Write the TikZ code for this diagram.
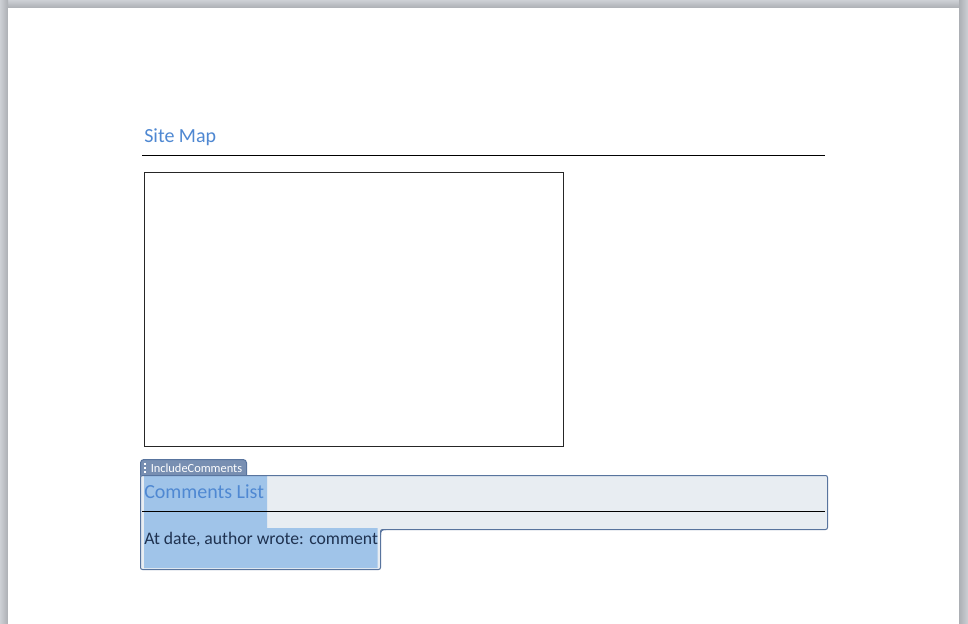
\documentclass[tikz,border=0pt]{standalone}
\usepackage{fontspec}
\setmainfont{Carlito}
\definecolor{pageshade}{RGB}{172,175,180}
\definecolor{shadeout}{RGB}{205,208,213}
\definecolor{heading}{RGB}{79,136,210}
\definecolor{bodytext}{RGB}{31,50,80}
\definecolor{selblue}{RGB}{160,196,233}
\definecolor{ctlfill}{RGB}{232,237,242}
\definecolor{ctledge}{RGB}{88,116,158}
\definecolor{tabfill}{RGB}{120,143,178}
\tikzset{
  x=0.75pt,y=-0.75pt,
  headtext/.style={inner sep=0pt,anchor=base west,text=heading},
  bodylabel/.style={inner sep=0pt,anchor=base west,text=bodytext,font=\fontsize{13.25}{15}\selectfont},
  rule/.style={draw=black,line width=0.75pt},
  ctl/.style={draw=ctledge,line width=0.75pt,rounded corners=1.5pt},
}
\begin{document}
\begin{tikzpicture}
\useasboundingbox (0,0) rectangle (968,624);
% window background and page
\fill[shadeout] (0,0) rectangle (968,624);
\shade[top color=shadeout,bottom color=pageshade] (0,0) rectangle (968,8);
\shade[left color=shadeout,right color=pageshade] (0,0) rectangle (8,624);
\shade[left color=pageshade,right color=shadeout] (959,0) rectangle (968,624);
\fill[white] (8,8) rectangle (959,624);
% site map
\node[headtext,font=\fontsize{15}{18}\selectfont] (sitemap) at (144,143) {Site Map};
\coordinate (r1a) at (142,155.5);
\coordinate (r1b) at (825,155.5);
\draw[rule] (r1a) -- (r1b);
\node[draw=black!85,line width=0.75pt,fill=white,minimum width=314.25pt,minimum height=205.5pt,inner sep=0pt,anchor=north west] (mapbox) at (143.6,172.3) {};
% tab, drawn first so that the control covers its foot
\path[ctl,fill=tabfill,rounded corners=2.5pt] (140.5,480) -- (140.5,459.5) -- (246.5,459.5) -- (246.5,480) -- cycle;
% content control
\path[fill=ctlfill] (140.5,475.5) rectangle (827.5,529.5) (140.5,529.5) rectangle (380.5,569.5);
\path[fill=selblue] (144,476) rectangle (267,528) (144,528) rectangle (377.5,568);
\draw[ctl] (140.5,475.5) -- (827.5,475.5) -- (827.5,529.5) -- (380.5,529.5) -- (380.5,569.5) -- (140.5,569.5) -- cycle;
\path[fill=white] (381.5,530.5) rectangle (386,534);
\draw[ctledge,line width=0.75pt] (380.5,535) .. controls (380.5,531) and (381.5,529.5) .. (386,529.5);
\foreach \yy in {464,468,472}{\fill[white] (144,\yy-1) rectangle (146,\yy+1);}
\node[inner sep=0pt,anchor=base west,text=white,font=\fontsize{9.3}{10}\selectfont] (tab) at (150.5,472) {IncludeComments};
\node[headtext,font=\fontsize{15}{18}\selectfont] (comments) at (144,498) {Comments List};
\coordinate (r2a) at (142,511.5);
\coordinate (r2b) at (825,511.5);
\draw[rule] (r2a) -- (r2b);
\node[bodylabel] (entry) at (144,544) {At date, author wrote: comment};
\end{tikzpicture}
\end{document}
